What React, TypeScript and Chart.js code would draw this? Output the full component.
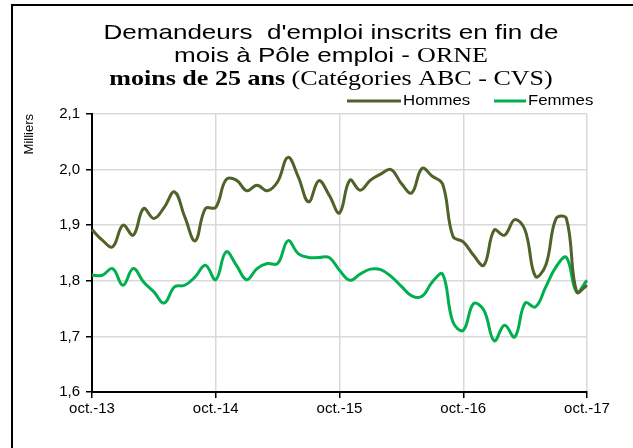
import React, { useEffect, useRef } from 'react';
import { Chart, registerables } from 'chart.js';

Chart.register(...registerables);

const SANS = '"Liberation Sans", Arial, sans-serif';
const SERIF = '"Liberation Serif", "Times New Roman", serif';

const categories = [
  'oct.-13', 'nov.-13', 'déc.-13', 'janv.-14', 'févr.-14', 'mars-14', 'avr.-14', 'mai-14', 'juin-14', 'juil.-14', 'août-14', 'sept.-14',
  'oct.-14', 'nov.-14', 'déc.-14', 'janv.-15', 'févr.-15', 'mars-15', 'avr.-15', 'mai-15', 'juin-15', 'juil.-15', 'août-15', 'sept.-15',
  'oct.-15', 'nov.-15', 'déc.-15', 'janv.-16', 'févr.-16', 'mars-16', 'avr.-16', 'mai-16', 'juin-16', 'juil.-16', 'août-16', 'sept.-16',
  'oct.-16', 'nov.-16', 'déc.-16', 'janv.-17', 'févr.-17', 'mars-17', 'avr.-17', 'mai-17', 'juin-17', 'juil.-17', 'août-17', 'sept.-17',
  'oct.-17',
];

const tickLabels = ['oct.-13', 'oct.-14', 'oct.-15', 'oct.-16', 'oct.-17'];

const hommes = [
  1.892, 1.873, 1.861, 1.900, 1.882, 1.930, 1.912, 1.932, 1.960, 1.915, 1.872, 1.930,
  1.932, 1.982, 1.981, 1.962, 1.972, 1.962, 1.978, 2.022, 1.987, 1.942, 1.980, 1.954,
  1.922, 1.981, 1.963, 1.981, 1.992, 2.000, 1.975, 1.958, 2.002, 1.988, 1.974, 1.880,
  1.870, 1.846, 1.828, 1.891, 1.882, 1.910, 1.891, 1.808, 1.828, 1.912, 1.912, 1.780,
  1.792,
];

const femmes = [
  1.810, 1.810, 1.822, 1.792, 1.822, 1.798, 1.780, 1.760, 1.789, 1.792, 1.807, 1.828,
  1.802, 1.852, 1.828, 1.802, 1.822, 1.831, 1.831, 1.872, 1.849, 1.842, 1.842, 1.842,
  1.819, 1.801, 1.812, 1.821, 1.820, 1.808, 1.790, 1.773, 1.772, 1.798, 1.812, 1.726,
  1.711, 1.759, 1.747, 1.692, 1.720, 1.699, 1.760, 1.753, 1.789, 1.825, 1.842, 1.780,
  1.801,
];

const seriesNames = ['Hommes', 'Femmes'];
const seriesColors = ['#4F6228', '#00B050'];

const titleLines = [
  [{ text: "Demandeurs  d'emploi inscrits en fin de", font: `21px ${SANS}` }],
  [
    { text: 'mois à Pôle emploi - ', font: `21px ${SANS}` },
    { text: 'ORNE', font: `21px ${SERIF}` },
  ],
  [
    { text: 'moins de 25 ans ', font: `bold 21px ${SERIF}` },
    { text: '(Catégories ABC - CVS)', font: `21px ${SERIF}` },
  ],
];

const decorPlugin = {
  id: 'decor',
  beforeDraw(chart: any) {
    const ctx = chart.ctx as CanvasRenderingContext2D;
    ctx.save();
    ctx.fillStyle = '#ffffff';
    ctx.fillRect(0, 0, chart.width, chart.height);
    ctx.strokeStyle = '#000000';
    ctx.lineWidth = 2;
    ctx.strokeRect(12, 5, 800, 800);
    ctx.restore();
  },
  afterDraw(chart: any) {
    const ctx = chart.ctx as CanvasRenderingContext2D;
    ctx.save();
    // title
    ctx.fillStyle = '#000000';
    ctx.textBaseline = 'alphabetic';
    ctx.textAlign = 'left';
    const cx = 331;
    const sx = 1.24;
    const baselines = [39, 62, 85];
    titleLines.forEach((line, li) => {
      let total = 0;
      line.forEach((seg) => {
        ctx.font = seg.font;
        total += ctx.measureText(seg.text).width;
      });
      ctx.save();
      ctx.translate(cx, 0);
      ctx.scale(sx, 1);
      let x = -total / 2;
      line.forEach((seg) => {
        ctx.font = seg.font;
        ctx.fillText(seg.text, x, baselines[li]);
        x += ctx.measureText(seg.text).width;
      });
      ctx.restore();
    });
    // legend
    const legendY = 101;
    const items = [
      { x0: 347, x1: 401, tx: 403 },
      { x0: 494, x1: 526, tx: 528 },
    ];
    chart.data.datasets.forEach((ds: any, i: number) => {
      const it = items[i];
      ctx.strokeStyle = ds.borderColor;
      ctx.lineWidth = 3;
      ctx.beginPath();
      ctx.moveTo(it.x0, legendY);
      ctx.lineTo(it.x1, legendY);
      ctx.stroke();
      ctx.save();
      ctx.translate(it.tx, legendY);
      ctx.scale(1.2, 1);
      ctx.fillStyle = '#000000';
      ctx.font = `14px ${SANS}`;
      ctx.textBaseline = 'middle';
      ctx.fillText(ds.label, 0, 0);
      ctx.restore();
    });
    ctx.restore();
  },
};

export default function App() {
  const ref = useRef<HTMLCanvasElement>(null);

  useEffect(() => {
    if (!ref.current) return;
    const tickFont = { family: SANS, size: 15 };
    const chart = new Chart(ref.current, {
      type: 'line',
      data: {
        labels: categories,
        datasets: [
          {
            label: seriesNames[0],
            data: hommes,
            borderColor: seriesColors[0],
            backgroundColor: seriesColors[0],
            borderWidth: 3,
            pointRadius: 0,
            tension: 0.4,
            fill: false,
          },
          {
            label: seriesNames[1],
            data: femmes,
            borderColor: seriesColors[1],
            backgroundColor: seriesColors[1],
            borderWidth: 3,
            pointRadius: 0,
            tension: 0.4,
            fill: false,
          },
        ],
      },
      options: {
        responsive: false,
        animation: false,
        layout: { padding: { top: 114, right: 46, left: 0, bottom: 0 } },
        plugins: {
          legend: { display: false },
          title: { display: false },
          tooltip: { enabled: false },
        },
        scales: {
          x: {
            type: 'category',
            offset: false,
            grid: {
              color: '#d9d9d9',
              lineWidth: 1.5,
              tickLength: 6,
              tickColor: '#000000',
              tickWidth: 1.5,
            },
            border: { display: true, color: '#000000', width: 2 },
            ticks: {
              autoSkip: false,
              maxRotation: 0,
              minRotation: 0,
              padding: 2,
              color: '#000000',
              font: tickFont,
              callback: (_v: any, i: number) =>
                i % 12 === 0 ? tickLabels[i / 12] : null,
            },
            afterFit: (s: any) => {
              s.height = 56;
            },
          },
          y: {
            min: 1.6,
            max: 2.1,
            grid: {
              color: '#d9d9d9',
              lineWidth: 1.5,
              tickLength: 6,
              tickColor: '#000000',
              tickWidth: 1.5,
            },
            border: { display: true, color: '#000000', width: 2 },
            ticks: {
              stepSize: 0.1,
              padding: 6,
              color: '#000000',
              font: tickFont,
              callback: (v: any) => Number(v).toFixed(1).replace('.', ','),
            },
            title: {
              display: true,
              text: 'Milliers',
              align: 'end',
              color: '#000000',
              font: { family: SANS, size: 13 },
              padding: { top: 22, bottom: 0 },
            },
            afterFit: (s: any) => {
              s.width = 92;
            },
          },
        },
      },
      plugins: [decorPlugin],
    } as any);
    return () => chart.destroy();
  }, []);

  return (
    <div style={{ position: 'fixed', left: 0, top: 0, width: 633, height: 448 }}>
      <canvas ref={ref} width={633} height={448} style={{ display: 'block' }} />
    </div>
  );
}
